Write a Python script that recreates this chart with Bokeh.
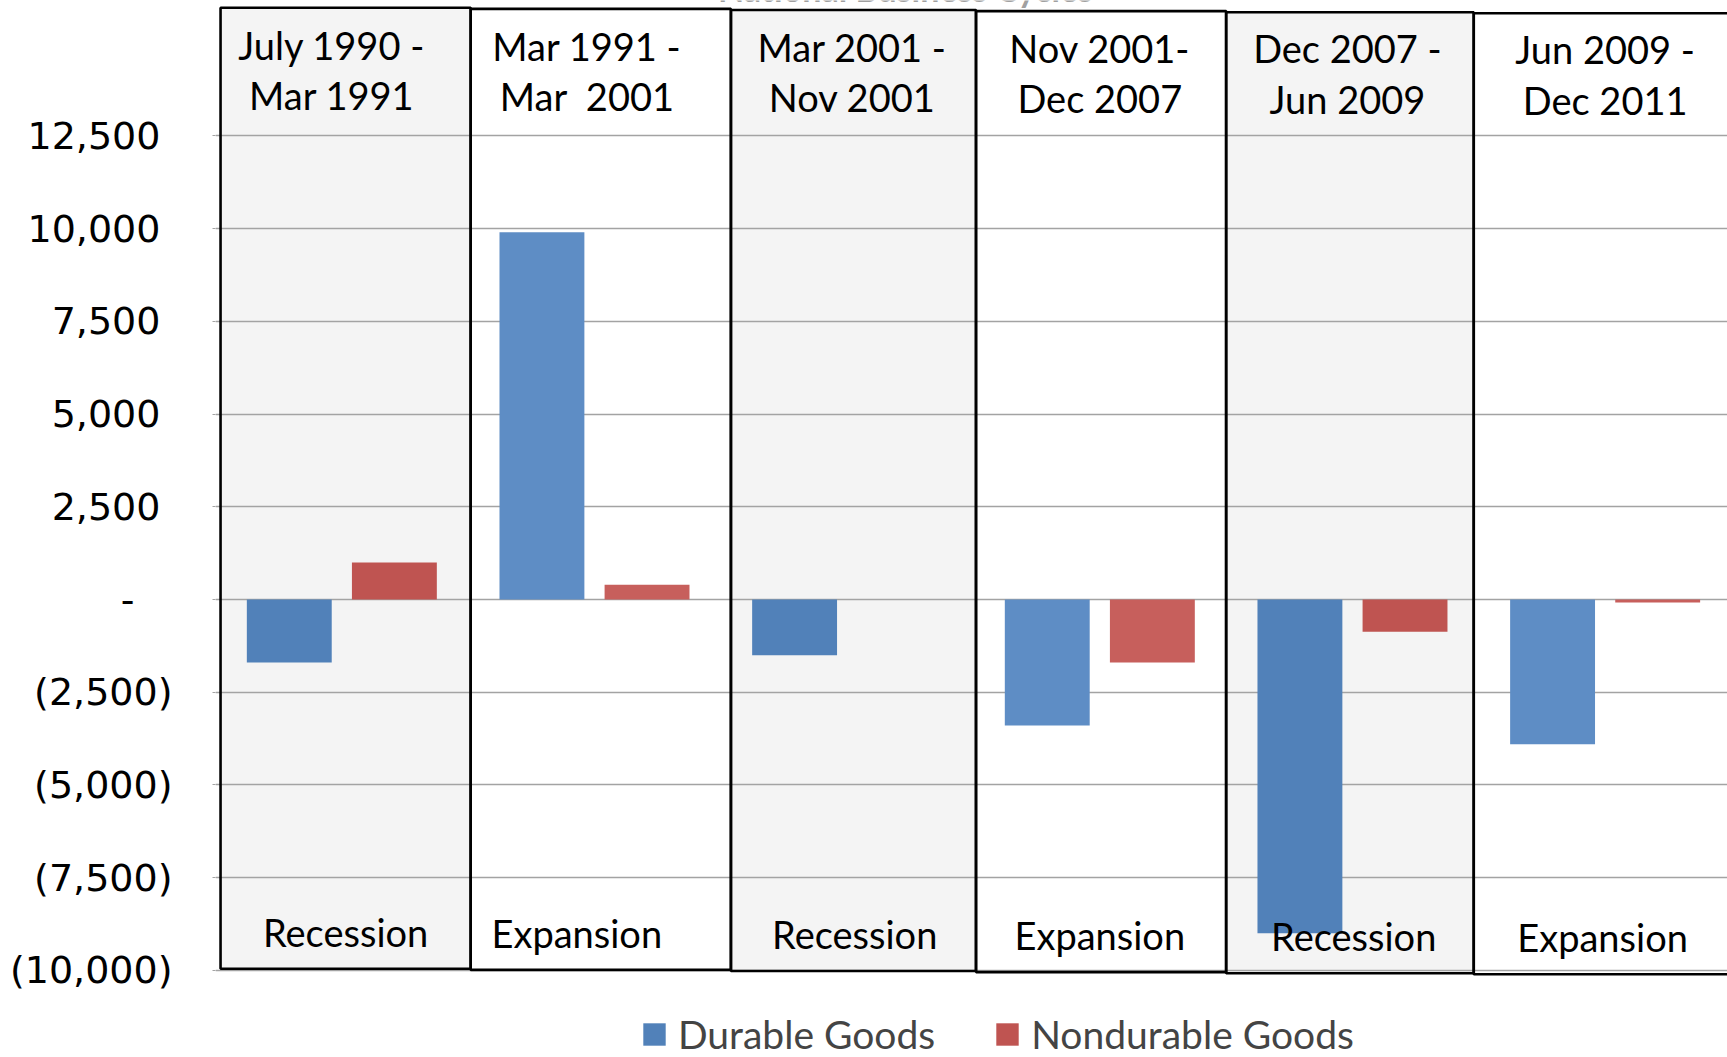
from bokeh.plotting import figure
from bokeh.models import Range1d, FixedTicker, Legend, LegendItem, Label, ColumnDataSource
from bokeh.core.properties import value
from bokeh.embed import file_html
from bokeh.resources import INLINE

# ---------------- data ----------------
period_start = ["July 1990 -", "Mar 1991 -", "Mar 2001 -", "Nov 2001-", "Dec 2007 -", "Jun 2009 -"]
period_end = ["Mar 1991", "Mar\u00a0 2001", "Nov 2001", "Dec 2007", "Jun 2009", "Dec 2011"]
phases = ["Recession", "Expansion", "Recession", "Expansion", "Recession", "Expansion"]
durable_goods = [-1700, 9900, -1500, -3400, -9000, -3900]
nondurable_goods = [1000, 400, 0, -1700, -870, -80]
y_ticks = [-10000, -7500, -5000, -2500, 0, 2500, 5000, 7500, 10000, 12500]
y_tick_labels = ["(10,000)", "(7,500)", "(5,000)", "(2,500)", "-\u2003",
                 "2,500\u2008", "5,000\u2008", "7,500\u2008", "10,000\u2008", "12,500\u2008"]
title_text = "National Business Cycles"

# ---------------- layout helpers ----------------
W, H = 1727, 1057
LEFT = 215
PX_PER_UNIT = 0.03709   # screen px per value unit
ZERO_Y = 599.0          # screen y of the zero line
PX_PER_CAT = 252.66     # screen px per period


def px_to_val(sy):
    return (ZERO_Y - sy) / PX_PER_UNIT


n = len(phases)
idx = list(range(n))
box_edges = [0.02, 1.01, 2.04, 3.01, 4.0, 4.98, 6.05]
box_top = [px_to_val(7.3 + 1.1 * i) for i in idx]
box_bottom = [px_to_val(968.3 + 1.1 * i) for i in idx]
box_fill = ["#F4F4F4" if ph == "Recession" else "#FFFFFF" for ph in phases]

head_x = [0.46, 1.47, 2.52, 3.50, 4.48, 5.50]
foot_x = [0.515, 1.43, 2.53, 3.50, 4.505, 5.49]

blue_dark, blue_light = "#5181B9", "#5E8DC5"
red_dark, red_light = "#BF5451", "#C75F5C"

p = figure(width=W, height=H,
           x_range=Range1d(0, (W - LEFT) / PX_PER_CAT),
           y_range=Range1d(px_to_val(H), px_to_val(0)),
           output_backend="svg", toolbar_location=None, x_axis_location=None,
           min_border_left=LEFT, min_border_right=0, min_border_top=0, min_border_bottom=0)
p.outline_line_color = None
p.background_fill_color = "white"
p.border_fill_color = "white"
p.xgrid.visible = False

# boxes (fill below grid lines)
box_src = ColumnDataSource(dict(left=box_edges[:-1], right=box_edges[1:], top=box_top,
                                bottom=box_bottom, fill=box_fill))
fill_r = p.quad(left="left", right="right", top="top", bottom="bottom", source=box_src,
                fill_color="fill", line_color=None)
fill_r.level = "image"

p.ygrid.ticker = FixedTicker(ticks=y_ticks)
p.ygrid.grid_line_color = "#A3A3A3"
p.ygrid.grid_line_width = 1.5

p.quad(left="left", right="right", top="top", bottom="bottom", source=box_src,
       fill_color=None, line_color="black", line_width=2.6)

# bars
bar_w = 0.336
blue_cols = [blue_dark if ph == "Recession" else blue_light for ph in phases]
red_cols = [red_dark if ph == "Recession" else red_light for ph in phases]
src_d = ColumnDataSource(dict(x=[i + 0.292 for i in idx], top=durable_goods, c=blue_cols))
src_n = ColumnDataSource(dict(x=[i + 0.708 for i in idx], top=nondurable_goods, c=red_cols))
rb = p.vbar(x="x", top="top", bottom=0, width=bar_w, source=src_d, fill_color="c", line_color=None)
rr = p.vbar(x="x", top="top", bottom=0, width=bar_w, source=src_n, fill_color="c", line_color=None)

# texts in boxes
font = value("Lato")
p.text(x=head_x, y=[px_to_val(44.3 + 0.9 * i) for i in idx], text=period_start,
       text_font=font, text_font_size="38px", text_align="center", text_baseline="middle",
       text_color="black")
p.text(x=head_x, y=[px_to_val(94.8 + 0.9 * i) for i in idx], text=period_end,
       text_font=font, text_font_size="38px", text_align="center", text_baseline="middle",
       text_color="black")
p.text(x=foot_x, y=[px_to_val(931.0 + 1.0 * i) for i in idx], text=phases,
       text_font=font, text_font_size="38px", text_align="center", text_baseline="middle",
       text_color="black")

# y axis
ax = p.yaxis[0]
ax.ticker = FixedTicker(ticks=y_ticks)
ax.major_label_overrides = {t: lab for t, lab in zip(y_ticks, y_tick_labels)}
ax.axis_line_color = None
ax.minor_tick_line_color = None
ax.major_tick_in = 0
ax.major_tick_out = 3
ax.major_tick_line_color = "#A3A3A3"
ax.major_label_standoff = 40
ax.major_label_text_font = "DejaVu Sans"
ax.major_label_text_font_size = "38px"
ax.major_label_text_color = "black"

# title, clipped at the very top as in the source
p.add_layout(Label(x=690, y=H + 12, x_units="screen", y_units="screen", text=title_text,
                   text_align="center", text_baseline="alphabetic", text_font="Lato",
                   text_font_style="bold", text_font_size="34px", text_color="#A0A0A0"))

legend = Legend(items=[LegendItem(label="Durable Goods", renderers=[rb], index=0),
                       LegendItem(label="Nondurable Goods", renderers=[rr], index=0)],
                orientation="horizontal", location=(425, 0), padding=0, margin=0,
                spacing=58, label_standoff=10, glyph_width=28, glyph_height=28,
                label_text_font="Lato", label_text_font_size="39px",
                border_line_color=None, background_fill_alpha=0)
p.add_layout(legend)

open("out.html", "w").write(file_html(p, INLINE))
